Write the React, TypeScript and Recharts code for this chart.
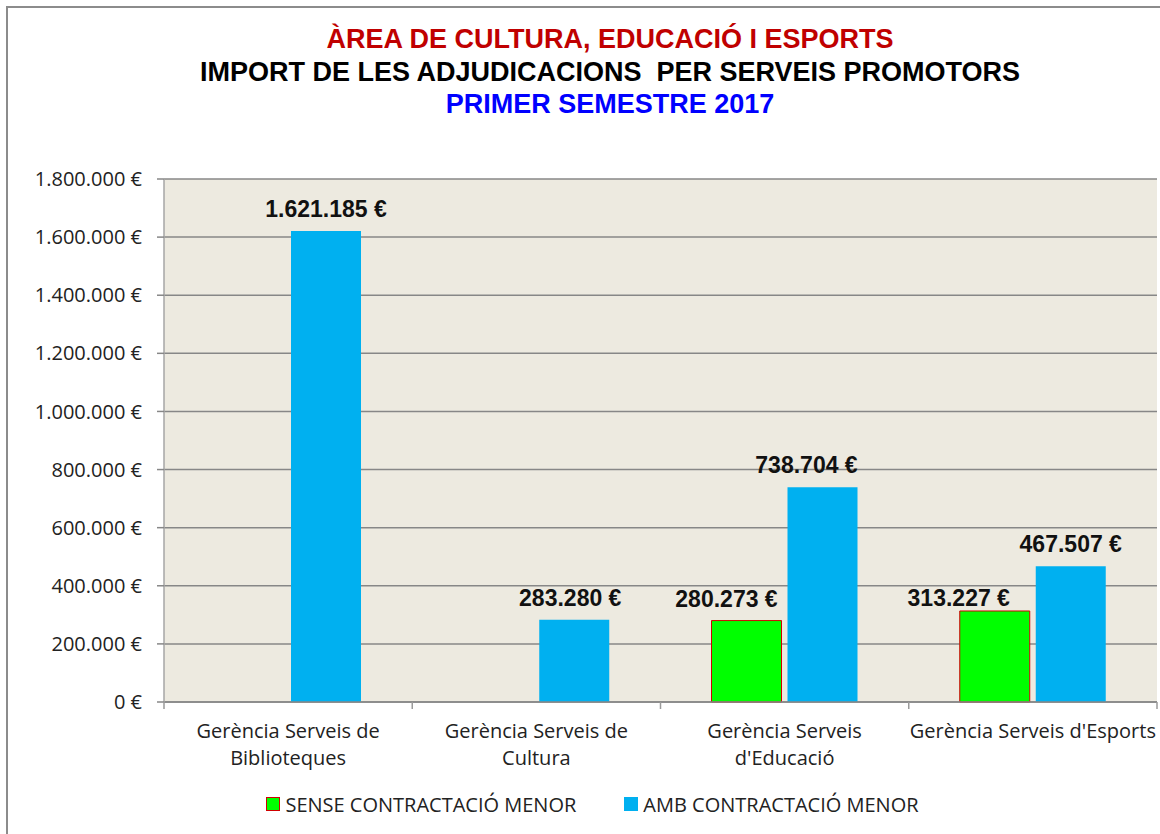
import { BarChart, Bar, XAxis, YAxis, CartesianGrid, Legend, LabelList } from "recharts";

const categories = [
  "Gerència Serveis de\nBiblioteques",
  "Gerència Serveis de\nCultura",
  "Gerència Serveis\nd'Educació",
  "Gerència Serveis d'Esports",
];
const senseMenor = [null, null, 280273, 313227];
const ambMenor = [1621185, 283280, 738704, 467507];
const yTicks = [0, 200000, 400000, 600000, 800000, 1000000, 1200000, 1400000, 1600000, 1800000];

const seriesNames = { sense: "SENSE CONTRACTACIÓ MENOR", amb: "AMB CONTRACTACIÓ MENOR" };
const seriesOrder = ["sense", "amb"];

// label nudges, as placed in the original sheet
const senseLabelShift = [
  [0, 0],
  [0, 0],
  [-20, 0],
  [-36, 9],
];
const ambLabelShift = [
  [0, 0],
  [-4, 0],
  [-16, 0],
  [0, 0],
];

const W = 1160;
const H = 834;
const Y_AXIS_W = 164;
const MARGIN = { top: 179, right: 3, left: 0, bottom: 0 };
const BAND = (W - MARGIN.right - MARGIN.left - Y_AXIS_W) / categories.length;

const AXIS_FONT = "'Open Sans', sans-serif";
const AXIS_SIZE = 20;
const LABEL_FONT = "'Liberation Sans', Arial, sans-serif";

const data = categories.map((name, i) => ({
  name,
  sense: senseMenor[i],
  amb: ambMenor[i],
}));

const euro = (v: number) =>
  String(Math.round(v)).replace(/\B(?=(\d{3})+(?!\d))/g, ".") + " €";

const makeLabel = (values: (number | null)[], shift: number[][]) => (props: any) => {
  const { x, y, width, value } = props;
  if (value == null) return null;
  const idx = values.indexOf(Number(value));
  const [dx, dy] = shift[idx] || [0, 0];
  return (
    <text
      x={Number(x) + Number(width) / 2 + dx}
      y={Number(y) - 14 + dy}
      textAnchor="middle"
      fontFamily={LABEL_FONT}
      fontWeight="bold"
      fontSize={23}
      fill="#111"
    >
      {euro(value)}
    </text>
  );
};

const CategoryTick = (props: any) => {
  const { x, y, payload, index } = props;
  const lines = String(payload.value).split("\n");
  const half = BAND / 2;
  return (
    <g>
      <line x1={x - half} x2={x - half} y1={y} y2={y + 7} stroke="#9a9a9a" strokeWidth={1.5} />
      {index === categories.length - 1 && (
        <line x1={x + half} x2={x + half} y1={y} y2={y + 7} stroke="#9a9a9a" strokeWidth={1.5} />
      )}
      <text x={x} y={y + 36} textAnchor="middle" fontFamily={AXIS_FONT} fontSize={AXIS_SIZE} fill="#222">
        {lines.map((l, i) => (
          <tspan key={i} x={x} dy={i === 0 ? 0 : 27}>
            {l}
          </tspan>
        ))}
      </text>
    </g>
  );
};

const legendSwatch: Record<string, { fill: string; stroke: string }> = {
  sense: { fill: "#00FF00", stroke: "#D00000" },
  amb: { fill: "#00B0F0", stroke: "#00B0F0" },
};

const renderLegend = (props: any) => {
  const items = [...(props.payload || [])].sort(
    (a: any, b: any) => seriesOrder.indexOf(a.dataKey) - seriesOrder.indexOf(b.dataKey)
  );
  return (
    <div
      style={{
        height: 60,
        display: "flex",
        justifyContent: "center",
        alignItems: "center",
        paddingLeft: 28,
        boxSizing: "border-box",
        fontFamily: AXIS_FONT,
        fontSize: AXIS_SIZE,
        color: "#222",
      }}
    >
      {items.map((it: any, i: number) => {
        const sw = legendSwatch[it.dataKey] || { fill: it.color, stroke: it.color };
        return (
          <span
            key={i}
            style={{ display: "flex", alignItems: "center", marginRight: i === 0 ? 48 : 0 }}
          >
            <span
              style={{
                width: 12,
                height: 12,
                background: sw.fill,
                border: `1px solid ${sw.stroke}`,
                marginRight: 5,
                display: "inline-block",
              }}
            />
            {it.value}
          </span>
        );
      })}
    </div>
  );
};

const titleStyle = (top: number, color: string) => ({
  position: "absolute" as const,
  left: 0,
  width: 1220,
  top,
  textAlign: "center" as const,
  fontFamily: LABEL_FONT,
  fontWeight: "bold" as const,
  fontSize: 27,
  lineHeight: "27px",
  color,
  whiteSpace: "pre" as const,
});

export default function App() {
  return (
    <div
      style={{
        position: "absolute",
        left: 0,
        top: 0,
        width: W,
        height: H,
        overflow: "hidden",
        background: "#fff",
      }}
    >
      <div
        style={{
          position: "absolute",
          left: 6,
          top: 6,
          width: 1200,
          height: 900,
          border: "2px solid #8c8c8c",
        }}
      />
      <div style={titleStyle(26, "#C00000")}>ÀREA DE CULTURA, EDUCACIÓ I ESPORTS</div>
      <div style={titleStyle(59, "#000")}>IMPORT DE LES ADJUDICACIONS  PER SERVEIS PROMOTORS</div>
      <div style={titleStyle(91, "#0000FF")}>PRIMER SEMESTRE 2017</div>
      <div style={{ position: "absolute", left: 0, top: 0 }}>
        <BarChart width={W} height={H} data={data} margin={MARGIN} barSize={70} barGap={6}>
          <CartesianGrid vertical={false} stroke="#878787" strokeWidth={1.5} fill="#EDEAE0" />
          <XAxis
            dataKey="name"
            height={72}
            interval={0}
            tickSize={0}
            tickMargin={0}
            tickLine={false}
            tick={<CategoryTick />}
            axisLine={{ stroke: "#878787", strokeWidth: 1.5 }}
          />
          <YAxis
            width={Y_AXIS_W}
            domain={[0, 1800000]}
            ticks={yTicks}
            interval={0}
            tickFormatter={euro}
            tickSize={7}
            tickMargin={15}
            tick={{ fontFamily: AXIS_FONT, fontSize: AXIS_SIZE, fill: "#222" }}
            tickLine={{ stroke: "#878787", strokeWidth: 1.5 }}
            axisLine={{ stroke: "#a6a6a6", strokeWidth: 1.5 }}
          />
          <Legend verticalAlign="bottom" content={renderLegend} />
          <Bar
            dataKey="sense"
            name={seriesNames.sense}
            fill="#00FF00"
            stroke="#D00000"
            strokeWidth={1}
            isAnimationActive={false}
          >
            <LabelList dataKey="sense" content={makeLabel(senseMenor, senseLabelShift)} />
          </Bar>
          <Bar dataKey="amb" name={seriesNames.amb} fill="#00B0F0" isAnimationActive={false}>
            <LabelList dataKey="amb" content={makeLabel(ambMenor, ambLabelShift)} />
          </Bar>
        </BarChart>
      </div>
    </div>
  );
}
